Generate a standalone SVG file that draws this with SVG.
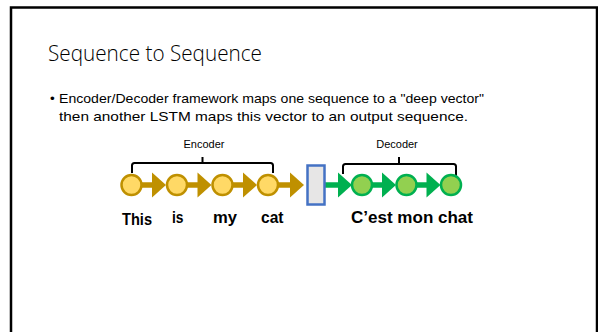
<svg xmlns="http://www.w3.org/2000/svg" width="598" height="332" viewBox="0 0 598 332">
<defs>
<style>
.enc-c{fill:#FFD966;stroke:#BF9000;stroke-width:2.5}
.dec-c{fill:#92D050;stroke:#00B050;stroke-width:2.5}
.enc-l{stroke:#BF9000;stroke-width:5.5;fill:none}
.enc-t{fill:#BF9000}
.dec-l{stroke:#00B050;stroke-width:5.5;fill:none}
.dec-t{fill:#00B050}
.brace{fill:none;stroke:#000;stroke-width:2}
.lbl{font-family:"Liberation Sans",Arial,sans-serif;font-size:11px;fill:#000;text-anchor:middle}
.word{font-family:"Liberation Sans",Arial,sans-serif;font-size:16px;font-weight:bold;fill:#000}
.body{font-family:"Liberation Sans",Arial,sans-serif;font-size:13.5px;fill:#000}
.title{font-family:"Open Sans","Liberation Sans",Arial,sans-serif;font-weight:300;font-size:22px;fill:#000}
</style>
</defs>
<rect x="0" y="0" width="598" height="332" fill="#fff"/>
<rect x="11" y="7.5" width="586" height="340" fill="none" stroke="#000" stroke-width="2.5"/>
<text class="title" x="48" y="61" textLength="214" lengthAdjust="spacingAndGlyphs">Sequence to Sequence</text>
<text class="body" x="50" y="103">•</text>
<text class="body" x="59" y="103" textLength="425" lengthAdjust="spacingAndGlyphs">Encoder/Decoder framework maps one sequence to a "deep vector"</text>
<text class="body" x="59" y="121" textLength="409" lengthAdjust="spacingAndGlyphs">then another LSTM maps this vector to an output sequence.</text>

<g id="connectors">
<line class="enc-l" x1="142" y1="185" x2="154" y2="185"/>
<polygon class="enc-t" points="152,172.5 166,185 152,197.5"/>
<line class="enc-l" x1="187" y1="185" x2="200" y2="185"/>
<polygon class="enc-t" points="197.5,172.5 211.5,185 197.5,197.5"/>
<line class="enc-l" x1="233" y1="185" x2="245" y2="185"/>
<polygon class="enc-t" points="243,172.5 257,185 243,197.5"/>
<line class="enc-l" x1="278" y1="185" x2="292" y2="185"/>
<polygon class="enc-t" points="290,172.5 304,185 290,197.5"/>
<line class="dec-l" x1="325" y1="185" x2="340" y2="185"/>
<polygon class="dec-t" points="338,172.5 352,185 338,197.5"/>
<line class="dec-l" x1="372" y1="185" x2="384" y2="185"/>
<polygon class="dec-t" points="382,172.5 396,185 382,197.5"/>
<line class="dec-l" x1="416" y1="185" x2="428" y2="185"/>
<polygon class="dec-t" points="426.5,172.5 440.5,185 426.5,197.5"/>
</g>

<g id="encoder-brace">
<path class="brace" d="M132,173 V165.5 Q132,163 134.5,163 H270.5 Q273,163 273,165.5 V173 M202.5,163 V157"/>
<text class="lbl" x="204" y="148">Encoder</text>
</g>
<g id="decoder-brace">
<path class="brace" d="M343,174 V166.5 Q343,164 345.5,164 H453.5 Q456,164 456,166.5 V176 M399,164 V157"/>
<text class="lbl" x="397" y="148">Decoder</text>
</g>

<g id="enc1"><circle class="enc-c" cx="131.5" cy="185" r="10"/></g>
<g id="enc2"><circle class="enc-c" cx="177" cy="185" r="10"/></g>
<g id="enc3"><circle class="enc-c" cx="222.5" cy="185" r="10"/></g>
<g id="enc4"><circle class="enc-c" cx="268" cy="185" r="10"/></g>
<g id="vector"><rect x="307.5" y="165.5" width="17" height="39" fill="#E7E6E6" stroke="#4472C4" stroke-width="2.5"/></g>
<g id="dec1"><circle class="dec-c" cx="362" cy="185" r="10"/></g>
<g id="dec2"><circle class="dec-c" cx="406.5" cy="185" r="10"/></g>
<g id="dec3"><circle class="dec-c" cx="451" cy="185" r="10"/></g>

<g id="words">
<text class="word" x="122" y="225" textLength="30" lengthAdjust="spacingAndGlyphs">This</text>
<text class="word" x="172" y="223" textLength="11.5" lengthAdjust="spacingAndGlyphs">is</text>
<text class="word" x="213" y="223" textLength="24" lengthAdjust="spacingAndGlyphs">my</text>
<text class="word" x="261" y="223" textLength="22.5" lengthAdjust="spacingAndGlyphs">cat</text>
<text class="word" x="351" y="223" textLength="122" lengthAdjust="spacingAndGlyphs">C’est mon chat</text>
</g>
</svg>
